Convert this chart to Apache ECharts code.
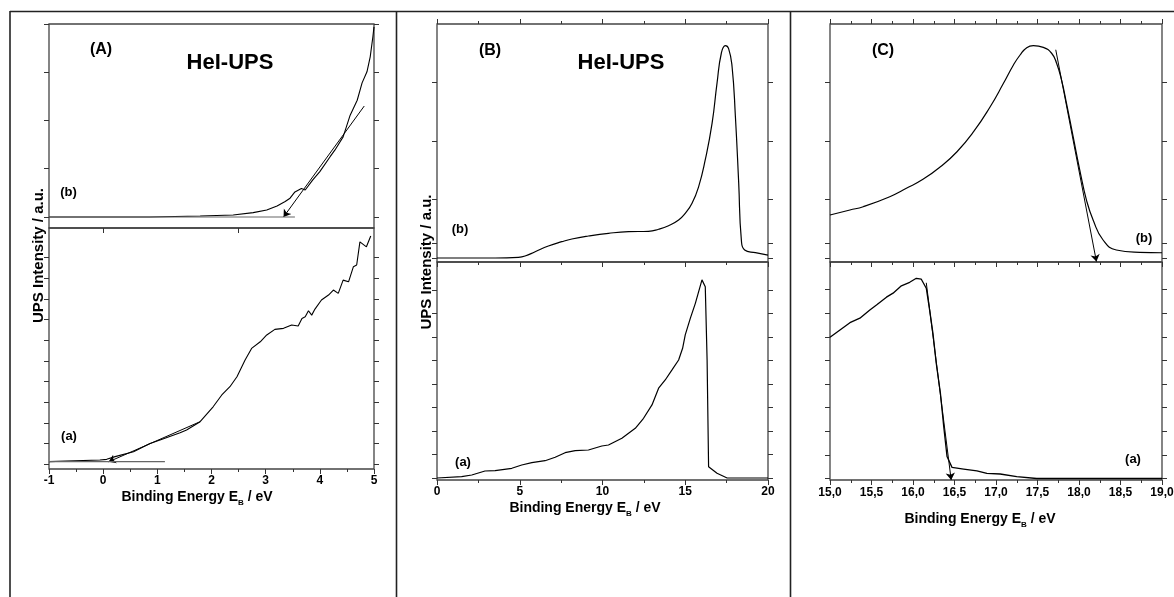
<!DOCTYPE html>
<html><head><meta charset="utf-8">
<script src="https://cdn.jsdelivr.net/npm/echarts@6/dist/echarts.min.js"></script>
<style>html,body{margin:0;padding:0;background:#fff}#c{width:1174px;height:597px}</style>
</head><body><div id="c"></div>
<script>
// ---------- DATA ----------
// Panel A (x: -1..5 eV)
const curveA_b = [[-1.0,0],[-0.06,0],[0.86,0],[1.79,0.02],[2.40,0.04],[2.77,0.09],[3.02,0.145],[3.21,0.23],[3.36,0.32],[3.45,0.39],[3.54,0.52],[3.66,0.59],[3.73,0.56],[3.87,0.77],[4.00,0.94],[4.19,1.25],[4.28,1.39],[4.43,1.66],[4.56,2.11],[4.69,2.42],[4.78,2.78],[4.87,3.01],[4.93,3.32],[4.98,3.74],[5.0,3.94]];
const baseA_b = [[-1,0],[3.54,0]];
const tangentA_b = [[4.82,2.30],[3.33,0]];
const curveA_a = [[-1.0,0.13],[-0.06,0.21],[0.065,0.24],[0.22,0.37],[0.56,0.61],[0.865,1.01],[1.05,1.17],[1.42,1.53],[1.54,1.66],[1.79,2.06],[2.03,2.78],[2.19,3.35],[2.34,3.75],[2.47,4.23],[2.62,5.04],[2.74,5.60],[2.90,5.92],[3.02,6.25],[3.17,6.52],[3.33,6.57],[3.48,6.73],[3.60,6.68],[3.67,7.05],[3.73,7.13],[3.79,7.42],[3.85,7.21],[3.91,7.50],[4.03,7.94],[4.16,8.18],[4.25,8.42],[4.34,8.26],[4.43,8.90],[4.53,8.82],[4.62,9.55],[4.68,9.63],[4.74,10.75],[4.86,10.51],[4.94,11.03]];
const baseA_a = [[-1,0.13],[1.14,0.13]];
const tangentA_a = [[1.79,2.06],[0.10,0.12]];
// Panel B (x: 0..20 eV)
const curveB_b = [[0,0],[3.51,0],[4.92,0.012],[5.32,0.034],[5.93,0.108],[6.73,0.205],[7.54,0.279],[8.15,0.325],[9.15,0.376],[10.36,0.422],[11.57,0.450],[12.78,0.456],[13.39,0.491],[13.99,0.552],[14.60,0.650],[15.00,0.764],[15.41,0.935],[15.81,1.22],[16.21,1.68],[16.62,2.30],[16.92,2.99],[17.18,3.50],[17.42,3.63],[17.62,3.58],[17.83,3.27],[18.03,2.42],[18.23,1.28],[18.39,0.31],[18.59,0.137],[19.24,0.091],[20.0,0.051]];
const curveB_a = [[0,0],[1.49,0.055],[2.10,0.128],[2.90,0.298],[3.51,0.311],[4.52,0.413],[5.12,0.553],[5.73,0.651],[6.53,0.736],[7.14,0.881],[7.74,1.077],[8.35,1.162],[9.15,1.191],[9.96,1.362],[10.36,1.404],[11.17,1.689],[11.98,2.115],[12.48,2.54],[12.99,3.11],[13.39,3.82],[13.79,4.17],[14.20,4.60],[14.60,5.02],[14.84,5.52],[15.00,6.09],[15.31,6.80],[15.61,7.43],[16.01,8.43],[16.11,8.50],[16.21,8.14],[16.32,5.03],[16.41,0.48],[16.92,0.20],[17.53,0],[20.0,0]];
// Panel C (x: 15..19 eV)
const curveC_b = [[15.0,0.735],[15.24,0.821],[15.40,0.877],[15.72,1.048],[15.92,1.191],[16.12,1.345],[16.33,1.56],[16.53,1.817],[16.73,2.159],[16.93,2.586],[17.09,2.986],[17.21,3.30],[17.29,3.47],[17.37,3.595],[17.45,3.63],[17.57,3.60],[17.67,3.50],[17.73,3.33],[17.79,3.04],[17.85,2.64],[17.93,2.07],[18.01,1.50],[18.09,0.991],[18.17,0.65],[18.29,0.308],[18.45,0.137],[18.73,0.097],[19.0,0.09]];
const tangentC_b = [[17.72,3.56],[18.21,-0.06]];
const curveC_a = [[15.0,5.98],[15.12,6.29],[15.24,6.60],[15.36,6.79],[15.48,7.14],[15.56,7.35],[15.68,7.68],[15.76,7.85],[15.86,8.16],[15.96,8.31],[16.04,8.48],[16.10,8.44],[16.16,8.06],[16.20,7.14],[16.24,6.16],[16.28,4.88],[16.33,3.62],[16.37,2.20],[16.41,0.93],[16.47,0.47],[16.61,0.40],[16.77,0.32],[16.89,0.22],[17.05,0.19],[17.25,0.08],[17.49,0],[18.13,0],[19.0,0]];
const tangentC_a = [[16.16,8.29],[16.46,-0.06]];
// tick values (y axes are arbitrary units)
const yTicksA_b = [0,1,2,3,4];
const yTicksA_a = [0,1,2,3,4,5,6,7,8,9,10];
const yTicksB_b = [0,0.26,1,2,3];
const yTicksB_a = [0,1,2,3,4,5,6,7,8];
const yTicksC_b = [0,0.26,1,2,3];
const yTicksC_a = [0,1,2,3,4,5,6,7,8];
const xTicksA_div = [0,2.5];

// ---------- LAYOUT ----------
const FONT = '"Liberation Sans", Arial, Helvetica, sans-serif';
const AX = '#333';
const grids = [
  {left:49, top:24, width:325, height:204},
  {left:49, top:228, width:325, height:241},
  {left:437, top:24, width:331, height:238},
  {left:437, top:262, width:331, height:218},
  {left:830, top:24, width:332, height:238},
  {left:830, top:262, width:332, height:218}
].map(g => Object.assign({show:true, borderColor:'#444', borderWidth:1.3, outerBoundsMode:'none', containLabel:false}, g));

const xr = [
  {min:-1, max:5, interval:1},
  {min:-1, max:5, interval:1},
  {min:0, max:20, interval:5},
  {min:0, max:20, interval:5},
  {min:15, max:19, interval:0.5},
  {min:15, max:19, interval:0.5}
];
const yr = [
  {min:-0.228, max:4.0, ticks:yTicksA_b},
  {min:-0.227, max:11.42, ticks:yTicksA_a},
  {min:-0.068, max:4.0, ticks:yTicksB_b},
  {min:-0.085, max:9.19, ticks:yTicksB_a},
  {min:-0.068, max:4.0, ticks:yTicksC_b},
  {min:-0.064, max:9.17, ticks:yTicksC_a}
];

function tickStyle(show, custom){
  const t = {show:show, inside:false, length:5, lineStyle:{color:AX, width:1}};
  if (custom) t.customValues = custom;
  return t;
}
const xAxis = [], yAxis = [];
for (let i=0;i<6;i++){
  const isTop = i%2===0;
  let bottomCustom = null, bottomMinor = true;
  if (i===0){ bottomCustom = xTicksA_div; bottomMinor = false; }
  xAxis.push({
    type:'value', gridIndex:i, position:'bottom', min:xr[i].min, max:xr[i].max, interval:xr[i].interval,
    axisLine:{show:false, onZero:false}, splitLine:{show:false},
    axisTick: tickStyle(true, bottomCustom),
    minorTick:{show:bottomMinor, splitNumber:2, length:3, lineStyle:{color:AX}},
    axisLabel: isTop ? {show:false} : {
      show:true, margin: i===5?7:6, color:'#000', fontSize:12, fontWeight:'bold', fontFamily:FONT,
      showMinLabel:true, showMaxLabel:true, hideOverlap:false,
      formatter: i===5 ? (v => v.toFixed(1).replace('.', ',')) : (v => String(v))
    }
  });
  xAxis.push({
    type:'value', gridIndex:i, position:'top', min:xr[i].min, max:xr[i].max, interval:xr[i].interval,
    axisLine:{show:false, onZero:false}, splitLine:{show:false},
    axisTick: tickStyle(isTop && i!==0, null),
    minorTick:{show:isTop && i!==0, splitNumber:2, length:3, lineStyle:{color:AX}},
    axisLabel:{show:false}
  });
  ['left','right'].forEach(pos => {
    yAxis.push({
      type:'value', gridIndex:i, position:pos, min:yr[i].min, max:yr[i].max,
      axisLine:{show:false, onZero:false}, splitLine:{show:false},
      axisTick: tickStyle(true, yr[i].ticks),
      axisLabel:{show:false}, minorTick:{show:false}
    });
  });
}

function curve(data, gi, color, width, smooth){
  return {type:'line', data:data, xAxisIndex:2*gi, yAxisIndex:2*gi, showSymbol:false, symbol:'none',
    smooth:smooth||false, silent:true, animation:false,
    lineStyle:{color:color||'#000', width:width||1.1}};
}
function arrow(coords, gi){
  return {type:'lines', coordinateSystem:'cartesian2d', xAxisIndex:2*gi, yAxisIndex:2*gi,
    symbol:['none','arrow'], symbolSize:7, silent:true, animation:false,
    lineStyle:{color:'#000', width:1, opacity:1, curveness:0},
    data:[{coords:coords}]};
}

const series = [
  curve(curveA_b,0,'#000',1.1), curve(baseA_b,0,'#666',1.2), arrow(tangentA_b,0),
  curve(curveA_a,1), curve(baseA_a,1,'#666',1.2), arrow(tangentA_a,1),
  curve(curveB_b,2,'#000',1.2,0.5), curve(curveB_a,3,'#000',1.2),
  curve(curveC_b,4,'#000',1.2,0.5), arrow(tangentC_b,4),
  curve(curveC_a,5,'#000',1.3), arrow(tangentC_a,5)
];

function txt(text, x, y, size, extra){
  return Object.assign({type:'text', x:x, y:y, silent:true, style:{
    text:text, font:'bold '+size+'px '+FONT, fill:'#000',
    align:'center', verticalAlign:'middle', textAlign:'center', textVerticalAlign:'middle'}}, extra||{});
}
function titleTxt(x, y){
  return {type:'text', x:x, y:y, silent:true, style:{
    text:'Binding Energy E{s|B} / eV', fill:'#000', fontSize:14, fontWeight:'bold', fontFamily:FONT,
    lineHeight:20, align:'center', verticalAlign:'middle', textAlign:'center', textVerticalAlign:'middle',
    rich:{s:{fontSize:8, fontWeight:'bold', fontFamily:FONT, lineHeight:9, verticalAlign:'bottom', fill:'#000'}}
  }};
}
function vline(x, y1, y2){
  return {type:'line', silent:true, shape:{x1:x, y1:y1, x2:x, y2:y2}, style:{stroke:'#222', lineWidth:1.6}};
}

const graphic = [
  {type:'line', silent:true, shape:{x1:10, y1:11.5, x2:1174, y2:11.5}, style:{stroke:'#222', lineWidth:1.6}},
  vline(10, 11, 597), vline(396.5, 11, 597), vline(790.5, 11, 597),
  txt('(A)', 101, 50, 16), txt('HeI-UPS', 230, 63, 22),
  txt('(b)', 68.5, 192, 13), txt('(a)', 69, 436, 13),
  txt('(B)', 490, 51, 16), txt('HeI-UPS', 621, 63, 22),
  txt('(b)', 460, 229, 13), txt('(a)', 463, 462, 13),
  txt('(C)', 883, 51, 16),
  txt('(b)', 1144, 238, 13), txt('(a)', 1133, 459, 13),
  txt('UPS Intensity / a.u.', 38.5, 255.5, 15, {rotation:Math.PI/2}),
  txt('UPS Intensity / a.u.', 426.5, 262, 15, {rotation:Math.PI/2}),
  titleTxt(197, 497), titleTxt(585, 508), titleTxt(980, 519)
];

const chart = echarts.init(document.getElementById('c'), null, {renderer:'canvas'});
chart.setOption({animation:false, backgroundColor:'#fff', grid:grids, xAxis:xAxis, yAxis:yAxis, series:series, graphic:graphic});
</script></body></html>
